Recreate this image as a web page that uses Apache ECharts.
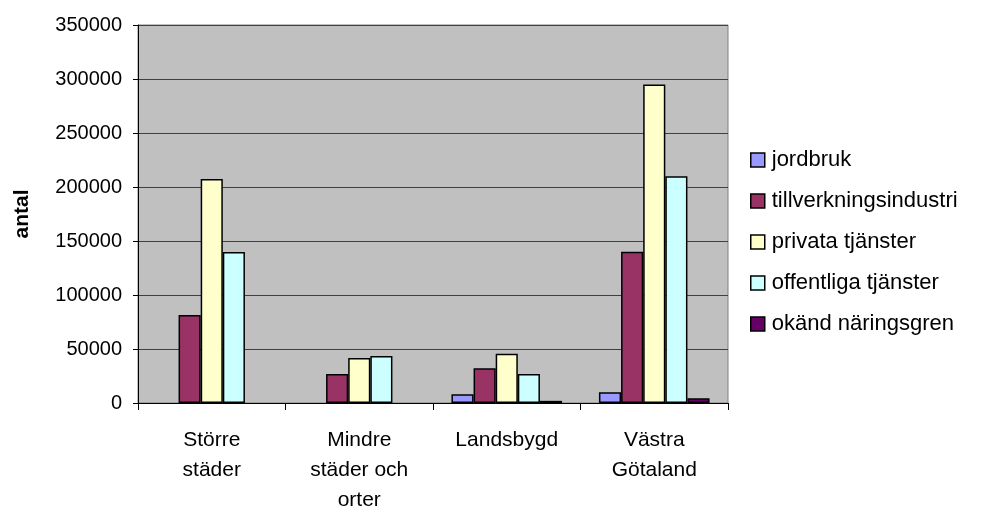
<!DOCTYPE html>
<html>
<head>
<meta charset="utf-8">
<script src="https://cdn.jsdelivr.net/npm/echarts@6/dist/echarts.min.js"></script>
<style>
  html, body { margin: 0; padding: 0; background: #fff; }
</style>
</head>
<body>
<div id="main" style="width: 986px;height:512px;"></div>
<script type="text/javascript">
    // data
    var categories = ['Större\nstäder', 'Mindre\nstäder och\norter', 'Landsbygd', 'Västra\nGötaland'];
    var jordbruk = [0, 0, 8000, 9900];
    var tillverkning = [81500, 26900, 32100, 140000];
    var privata = [207400, 41700, 45600, 295000];
    var offentliga = [139800, 43500, 26800, 209900];
    var okand = [0, 0, 2000, 4300];

    var seriesNames = ['jordbruk', 'tillverkningsindustri', 'privata tjänster', 'offentliga tjänster', 'okänd näringsgren'];
    var seriesData = [jordbruk, tillverkning, privata, offentliga, okand];
    var colors = ['#9999ff', '#993366', '#ffffcc', '#ccffff', '#660066'];

    var myChart = echarts.init(document.getElementById('main'));

    var series = [];
    for (var i = 0; i < seriesNames.length; i++) {
        series.push({
            name: seriesNames[i],
            type: 'bar',
            // zero values draw no bar at all
            data: seriesData[i].map(function (v) { return v === 0 ? '-' : v; }),
            barGap: '0%',
            barCategoryGap: '25%',
            itemStyle: {
                color: colors[i],
                borderColor: '#000',
                borderWidth: 1.5
            }
        });
    }

    var option = {
        animation: false,
        textStyle: { fontFamily: 'Liberation Sans' },
        grid: {
            left: 138,
            top: 25,
            right: 258,
            bottom: 109,
            containLabel: false,
            outerBoundsMode: 'none',
            show: true,
            backgroundColor: '#c0c0c0',
            borderColor: '#808080',
            borderWidth: 1
        },
        legend: {
            orient: 'vertical',
            left: 745,
            top: 144,
            itemWidth: 14,
            itemHeight: 14,
            itemGap: 19,
            icon: 'rect',
            itemStyle: { borderColor: '#000', borderWidth: 1.5 },
            textStyle: { fontSize: 22, lineHeight: 22, color: '#000', fontFamily: 'Liberation Sans', padding: [0, 0, 0, 2] },
            data: seriesNames
        },
        xAxis: {
            type: 'category',
            data: categories,
            axisLine: { lineStyle: { color: '#000', width: 1 } },
            axisTick: { show: true, length: 7, lineStyle: { color: '#000' } },
            axisLabel: {
                color: '#000',
                fontSize: 21,
                lineHeight: 30,
                margin: 22,
                interval: 0
            }
        },
        yAxis: {
            type: 'value',
            min: 0,
            max: 350000,
            interval: 50000,
            name: 'antal',
            nameLocation: 'middle',
            nameGap: 105,
            nameRotate: 90,
            nameTextStyle: { fontSize: 21, fontWeight: 'bold', color: '#000' },
            axisLine: { show: true, lineStyle: { color: '#000', width: 1 } },
            axisTick: { show: true, length: 5, lineStyle: { color: '#000' } },
            axisLabel: {
                color: '#000',
                fontSize: 20,
                margin: 16,
                formatter: function (v) { return String(v); }
            },
            splitLine: { lineStyle: { color: '#404040', width: 1 } }
        },
        series: series
    };
    myChart.setOption(option);
</script>
</body>
</html>
